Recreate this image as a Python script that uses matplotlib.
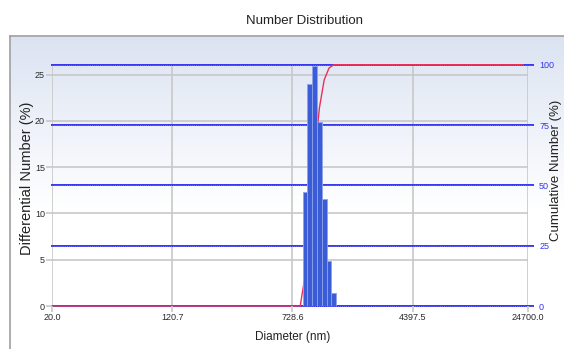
import numpy as np
import matplotlib
matplotlib.use("Agg")
import matplotlib.pyplot as plt

# ---- data ----
bin_centers = [879.6, 945.0, 1015.4, 1091.0, 1172.0, 1259.5, 1353.0]
diff_number = [12.3, 24.0, 25.9, 19.9, 11.6, 4.9, 1.4]
curve_start = [20.0, 819.0]
curve_end = [22900.0]
xtick_vals = [20.0, 120.7, 728.6, 4397.5, 24700.0]
xtick_labels = ["20.0", "120.7", "728.6", "4397.5", "24700.0"]
left_ticks = [0, 5, 10, 15, 20, 25]
right_ticks = [0, 25, 50, 75, 100]

W, H = 564, 349
fig = plt.figure(figsize=(W / 100, H / 100), dpi=100)
plt.rcParams['font.family'] = ['Liberation Sans', 'DejaVu Sans']

# background panel with gradient
bg = fig.add_axes([0, 0, 1, 1], zorder=-10)
bg.set_xlim(0, W); bg.set_ylim(H, 0); bg.axis('off')
grad = np.linspace(0, 1, 256).reshape(-1, 1)
top = np.array([0.86, 0.89, 0.95]); bot = np.array([1.0, 1.0, 1.0])
t = np.clip(grad / 0.55, 0, 1)
img = top * (1 - t)[..., None] + bot * t[..., None]
img = img.reshape(256, 1, 3)
bg.imshow(img, extent=[10, W, H, 36], aspect='auto', zorder=0)
bg.plot([10, 10], [H, 36], color='#a0a0a0', lw=1.2, zorder=1)
bg.plot([10, W], [36, 36], color='#a0a0a0', lw=1.2, zorder=1)

# main axes
x0, x1, ytop, ybot = 52, 528, 64.7, 306
ax = fig.add_axes([x0 / W, (H - ybot) / H, (x1 - x0) / W, (ybot - ytop) / H])
ax.patch.set_alpha(0)
ax.set_xscale('log')
ax.set_xlim(20, 24700)
ax.set_ylim(0, 26.07)
for s in ax.spines.values():
    s.set_visible(False)

# right axis: cumulative (drawn below the bar axes)
ax2 = ax.twinx()
ax2.set_ylim(0, 100)
ax2.patch.set_alpha(0)
for s in ax2.spines.values():
    s.set_visible(False)
ax2.set_yticks(right_ticks)
ax2.set_yticklabels([str(v) for v in right_ticks])
ax2.tick_params(axis='y', labelsize=6.5, labelcolor='#3535ee', length=0, pad=8)
ax2.set_zorder(1)
ax.set_zorder(2)

# gray grids (under everything)
for v in left_ticks:
    ax2.axhline(v * 100 / 26.07, color='#c8c8c8', lw=1.2, zorder=0.5)
for v in xtick_vals:
    ax2.axvline(v, color='#c8c8c8', lw=1.2, zorder=0.5)

ax.set_xticks(xtick_vals)
ax.set_xticklabels(xtick_labels)
ax.minorticks_off()
ax.set_yticks(left_ticks)
ax.set_yticklabels([str(v) for v in left_ticks])
ax.tick_params(axis='both', labelsize=6.5, colors='#c8c8c8', labelcolor='#2a2a2a',
               length=4, width=1.2, pad=1)

# bars
centers = np.array(bin_centers)
ratio = np.exp(np.mean(np.diff(np.log(centers))))
lefts = centers / np.sqrt(ratio)
widths = centers * np.sqrt(ratio) - lefts
ax.bar(lefts, diff_number, width=widths, align='edge', color='#3a5cd6',
       edgecolor='#8ea2ea', linewidth=0.6, zorder=5)

cum = np.cumsum(diff_number)
cum = cum / cum[-1] * 100
cx = curve_start + bin_centers + curve_end
cy = [0.0] * len(curve_start) + list(cum) + [100.0]
for v in right_ticks:
    ax2.axhline(v, xmin=0, xmax=1.011, color='#3535ee', lw=1.4, clip_on=False, zorder=2)
    ax2.axhline(v, xmin=0, xmax=1.011, color='#9a9af8', lw=0.5,
                linestyle=(0, (1, 2)), clip_on=False, zorder=2.1)
ax2.plot(cx, cy, color='#e8315a', lw=1.0, zorder=3, clip_on=False)

# text
fig.text(305 / W, 1 - 21 / H, "Number Distribution", ha='center', va='center',
         fontsize=9.5, color='#222222')
fig.text(293 / W, 1 - 337 / H, "Diameter (nm)", ha='center', va='center',
         fontsize=8.5, color='#222222')
fig.text(27 / W, 1 - 178 / H, "Differential Number (%)", ha='center', va='center',
         rotation=90, fontsize=10.5, color='#222222')
fig.text(556 / W, 1 - 170 / H, "Cumulative Number (%)", ha='center', va='center',
         rotation=90, fontsize=9.5, color='#222222')

fig.savefig("out.png", dpi=100)
